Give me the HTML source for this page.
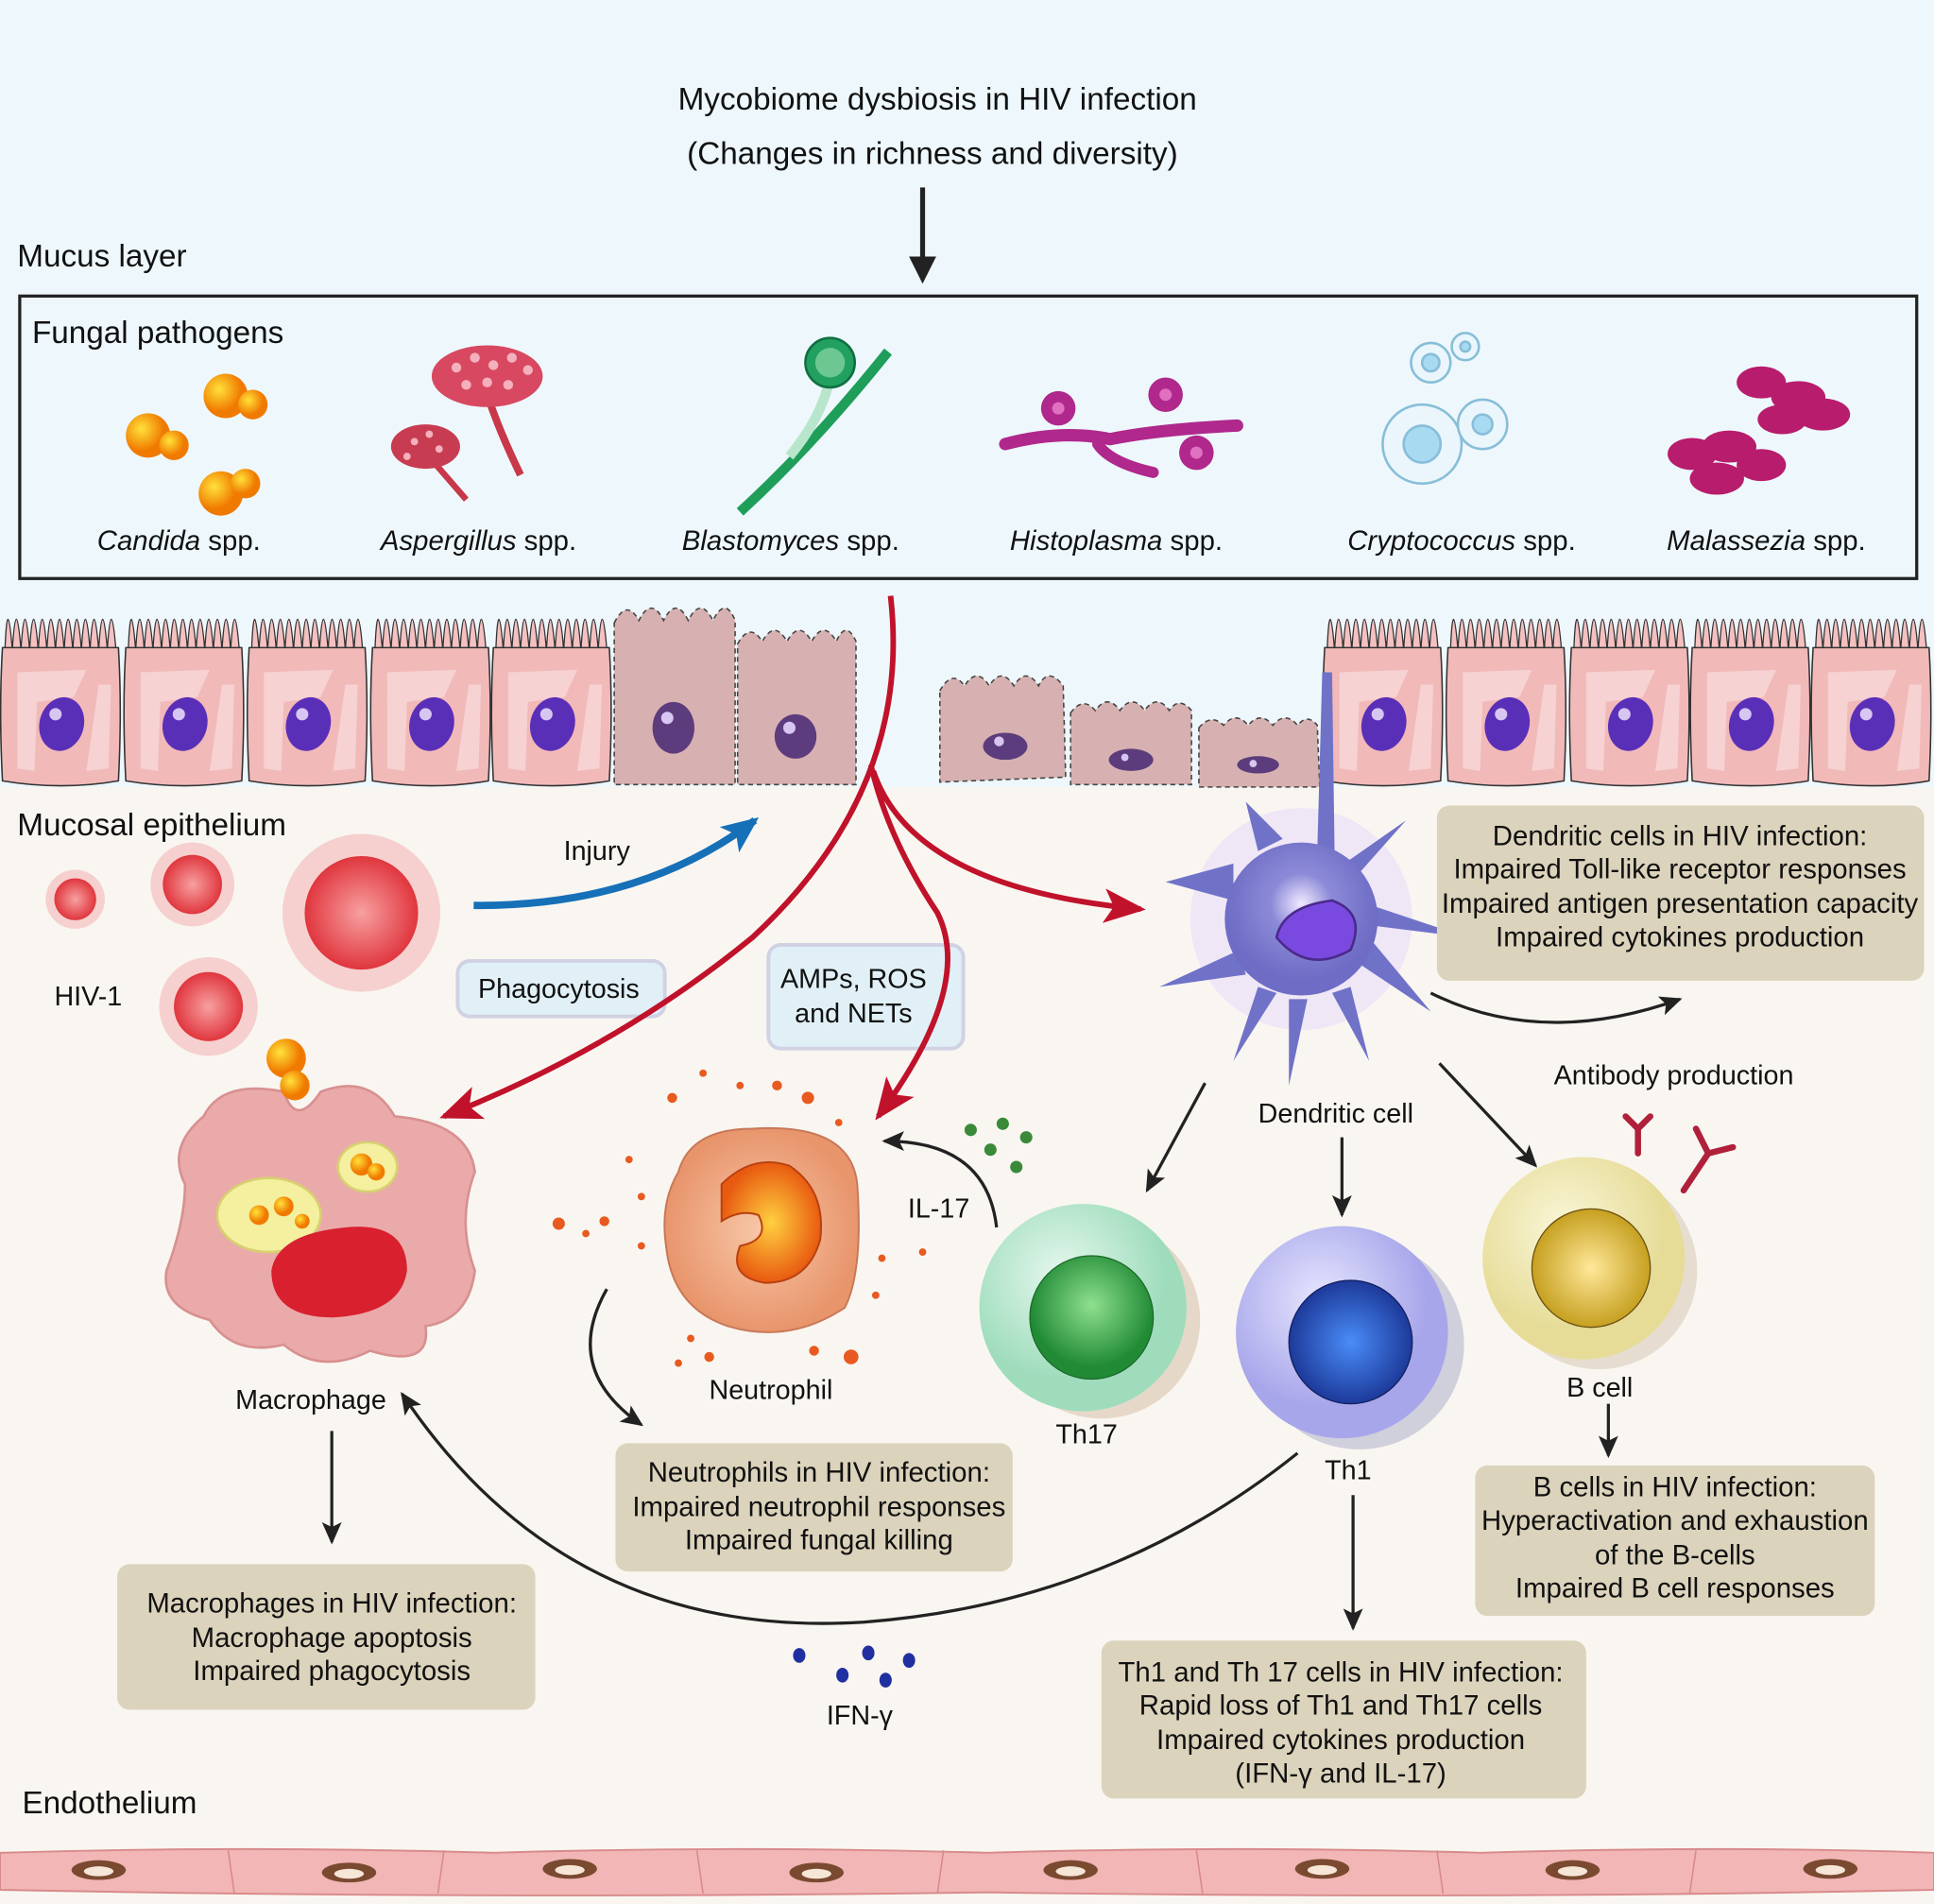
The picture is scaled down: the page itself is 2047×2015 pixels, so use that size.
<!DOCTYPE html>
<html><head><meta charset="utf-8"><style>
html,body{margin:0;padding:0;background:#fff}
svg{display:block}
text{font-family:"Liberation Sans",Arial,sans-serif;fill:#111}
</style></head><body>
<svg width="2047" height="2015" viewBox="0 0 1568 1543.5" xmlns="http://www.w3.org/2000/svg">
<defs>
<marker id="ar" markerWidth="34" markerHeight="28" refX="30" refY="14" orient="auto" markerUnits="userSpaceOnUse"><path d="M0,0 L34,14 L0,28 L8,14 z" fill="#c0122a"/></marker>
<marker id="abl" markerWidth="30" markerHeight="26" refX="26" refY="13" orient="auto" markerUnits="userSpaceOnUse"><path d="M0,0 L30,13 L0,26 L7,13 z" fill="#1670b8"/></marker>
<marker id="ak" markerWidth="18" markerHeight="16" refX="16" refY="8" orient="auto" markerUnits="userSpaceOnUse"><path d="M0,0 L18,8 L0,16 L4,8 z" fill="#222"/></marker>
<radialGradient id="org" cx="35%" cy="35%"><stop offset="0" stop-color="#ffe23a"/><stop offset="1" stop-color="#f07a00"/></radialGradient>
<radialGradient id="vir" cx="50%" cy="50%"><stop offset="0" stop-color="#f7a0a0"/><stop offset="1" stop-color="#e0363e"/></radialGradient>
<radialGradient id="dc" cx="50%" cy="40%"><stop offset="0" stop-color="#f0eaff"/><stop offset="0.4" stop-color="#8c8ad8"/><stop offset="1" stop-color="#6e6cc4"/></radialGradient>
<radialGradient id="g1" cx="40%" cy="35%"><stop offset="0" stop-color="#e6f8ee"/><stop offset="1" stop-color="#9edcbc"/></radialGradient>
<radialGradient id="g2" cx="50%" cy="40%"><stop offset="0" stop-color="#8ee08e"/><stop offset="1" stop-color="#218a35"/></radialGradient>
<radialGradient id="p1" cx="40%" cy="35%"><stop offset="0" stop-color="#e6e6ff"/><stop offset="1" stop-color="#a8a6ea"/></radialGradient>
<radialGradient id="p2" cx="50%" cy="50%"><stop offset="0" stop-color="#4a8cf8"/><stop offset="1" stop-color="#1d3a9a"/></radialGradient>
<radialGradient id="y1" cx="40%" cy="35%"><stop offset="0" stop-color="#faf6d8"/><stop offset="1" stop-color="#e6dc98"/></radialGradient>
<radialGradient id="y2" cx="50%" cy="50%"><stop offset="0" stop-color="#ffe89a"/><stop offset="1" stop-color="#c6a020"/></radialGradient>
<radialGradient id="neu" cx="50%" cy="50%"><stop offset="0" stop-color="#f8c8a8"/><stop offset="1" stop-color="#e8956c"/></radialGradient>
<radialGradient id="neun" cx="50%" cy="50%"><stop offset="0" stop-color="#ffd040"/><stop offset="1" stop-color="#e85a10"/></radialGradient>
<g id="hc">
<path d="M4,32 q2,-50 6,0 q3,-50 7,0 q3,-50 7,0 q3,-50 7,0 q3,-50 7,0 q3,-50 7,0 q3,-50 7,0 q3,-50 7,0 q3,-50 7,0 q3,-50 7,0 q3,-50 7,0 q3,-50 7,0 q3,-50 7,0 L94,32" fill="#f5c0c0" stroke="#333" stroke-width="1"/>
<path d="M2,30 L96,30 Q99,80 96,138 Q50,146 2,138 Q-1,80 2,30z" fill="#f2b9b9" stroke="#333" stroke-width="1.2"/>
<path d="M14,50 L70,48 L60,70 L30,74 L28,130 L14,128z" fill="#f6d2d2"/>
<path d="M80,60 L90,60 L88,128 L70,130z" fill="#f6d2d2"/>
<ellipse cx="50" cy="92" rx="18" ry="22" transform="rotate(15 50 92)" fill="#5a2fb8"/>
<circle cx="45" cy="84" r="5" fill="#d8c6f2"/>
</g>
</defs>

<rect x="0" y="0" width="1568" height="640" fill="#eef8fc"/>
<rect x="0" y="638" width="1568" height="906" fill="#f9f6f1"/>

<text x="760" y="89" font-size="25.5" text-anchor="middle">Mycobiome dysbiosis in HIV infection</text>
<text x="756" y="133" font-size="25.5" text-anchor="middle">(Changes in richness and diversity)</text>
<line x1="748" y1="152" x2="748" y2="216" stroke="#222" stroke-width="4"/>
<path d="M737,208 L748,230 L759,208z" fill="#222"/>
<text x="14" y="216" font-size="25.5">Mucus layer</text>
<rect x="16" y="240" width="1538" height="229" fill="none" stroke="#222" stroke-width="2.5"/>
<text x="26" y="278" font-size="25.5">Fungal pathogens</text>

<g font-size="22.5" text-anchor="middle">
<text x="145" y="446"><tspan font-style="italic">Candida</tspan> spp.</text>
<text x="388" y="446"><tspan font-style="italic">Aspergillus</tspan> spp.</text>
<text x="641" y="446"><tspan font-style="italic">Blastomyces</tspan> spp.</text>
<text x="905" y="446"><tspan font-style="italic">Histoplasma</tspan> spp.</text>
<text x="1185" y="446"><tspan font-style="italic">Cryptococcus</tspan> spp.</text>
<text x="1432" y="446"><tspan font-style="italic">Malassezia</tspan> spp.</text>
</g>

<g fill="url(#org)">
<circle cx="120" cy="353" r="18"/><circle cx="141" cy="361" r="12"/>
<circle cx="183" cy="321" r="18"/><circle cx="205" cy="328" r="12"/>
<circle cx="179" cy="400" r="18"/><circle cx="199" cy="392" r="12"/>
</g>
<g>
<path d="M395,320 Q405,350 422,385" stroke="#c8384a" stroke-width="6" fill="none"/>
<path d="M352,375 Q365,390 378,405" stroke="#c8384a" stroke-width="5" fill="none"/>
<ellipse cx="395" cy="305" rx="45" ry="25" fill="#d84860"/>
<ellipse cx="345" cy="362" rx="28" ry="18" fill="#c83c52"/>
<g fill="#f4b0bc"><circle cx="370" cy="298" r="4"/><circle cx="385" cy="290" r="4"/><circle cx="400" cy="296" r="4"/><circle cx="415" cy="290" r="4"/><circle cx="428" cy="300" r="4"/><circle cx="378" cy="312" r="4"/><circle cx="395" cy="310" r="4"/><circle cx="412" cy="312" r="4"/><circle cx="336" cy="358" r="3"/><circle cx="348" cy="352" r="3"/><circle cx="356" cy="364" r="3"/><circle cx="330" cy="370" r="3"/></g>
</g>
<path d="M600,415 Q660,360 720,285" stroke="#1f9e5a" stroke-width="8" fill="none"/>
<path d="M672,310 Q665,340 640,370" stroke="#b8e6cc" stroke-width="8" fill="none"/>
<circle cx="673" cy="294" r="20" fill="#22a060" stroke="#0e7040" stroke-width="2"/>
<circle cx="673" cy="294" r="12" fill="#6cc890"/>
<g fill="#b0288c">
<path d="M815,360 Q860,348 900,356 Q940,348 1003,345" stroke="#b0288c" stroke-width="10" fill="none" stroke-linecap="round"/>
<path d="M890,360 Q900,375 935,383" stroke="#b0288c" stroke-width="9" fill="none" stroke-linecap="round"/>
<circle cx="858" cy="331" r="14"/><circle cx="945" cy="320" r="14"/><circle cx="970" cy="367" r="14"/>
<g fill="#e070c0"><circle cx="858" cy="331" r="5"/><circle cx="945" cy="320" r="5"/><circle cx="970" cy="367" r="5"/></g>
</g>
<g fill="none" stroke="#88bed8" stroke-width="2">
<circle cx="1153" cy="360" r="32" fill="#eaf6fc"/><circle cx="1153" cy="360" r="15" fill="#a8daf2"/>
<circle cx="1202" cy="344" r="20" fill="#eaf6fc"/><circle cx="1202" cy="344" r="8" fill="#a8daf2"/>
<circle cx="1160" cy="294" r="16" fill="#eaf6fc"/><circle cx="1160" cy="294" r="7" fill="#a8daf2"/>
<circle cx="1188" cy="281" r="11" fill="#eaf6fc"/><circle cx="1188" cy="281" r="4" fill="#a8daf2"/>
</g>
<g fill="#b81c6c">
<ellipse cx="1428" cy="310" rx="20" ry="13"/><ellipse cx="1458" cy="322" rx="22" ry="13"/><ellipse cx="1478" cy="336" rx="22" ry="13"/><ellipse cx="1445" cy="340" rx="20" ry="12"/>
<ellipse cx="1372" cy="368" rx="20" ry="13"/><ellipse cx="1402" cy="362" rx="22" ry="13"/><ellipse cx="1428" cy="377" rx="20" ry="13"/><ellipse cx="1392" cy="388" rx="22" ry="13"/>
</g>

<use href="#hc" x="0" y="495"/><use href="#hc" x="100" y="495"/><use href="#hc" x="200" y="495"/><use href="#hc" x="300" y="495"/><use href="#hc" x="398" y="495"/>
<use href="#hc" x="1072" y="495"/><use href="#hc" x="1172" y="495"/><use href="#hc" x="1272" y="495"/><use href="#hc" x="1370" y="495"/><use href="#hc" x="1468" y="495"/>
<g fill="#d7b1b1" stroke="#444" stroke-width="1.2" stroke-dasharray="4,3">
<path d="M498,505 q10,-20 20,-2 q10,-20 20,0 q10,-20 20,0 q10,-20 20,0 q10,-20 18,0 L596,636 L498,636z"/>
<path d="M598,522 q10,-18 20,-2 q10,-18 20,0 q10,-18 20,0 q10,-18 20,0 q8,-18 16,0 L694,636 L598,636z"/>
<path d="M762,560 q10,-18 20,-4 q10,-16 20,0 q10,-16 20,0 q10,-16 20,0 q8,-16 20,0 L864,630 L762,634z"/>
<path d="M868,578 q10,-14 20,-2 q10,-14 20,0 q10,-14 20,0 q10,-14 20,0 q8,-12 18,0 L966,636 L868,636z"/>
<path d="M972,590 q10,-12 20,-2 q10,-12 20,0 q10,-12 20,0 q10,-12 20,0 q8,-10 16,0 L1070,638 L972,638z"/>
</g>
<g fill="#5c3c7c"><ellipse cx="546" cy="590" rx="17" ry="21"/><ellipse cx="645" cy="597" rx="17" ry="18"/><ellipse cx="815" cy="605" rx="18" ry="11"/><ellipse cx="917" cy="616" rx="18" ry="9"/><ellipse cx="1020" cy="620" rx="17" ry="7"/></g>
<g fill="#d8c6f2"><circle cx="541" cy="582" r="5"/><circle cx="640" cy="590" r="5"/><circle cx="810" cy="601" r="4"/><circle cx="912" cy="614" r="3"/><circle cx="1016" cy="619" r="3"/></g>

<text x="14" y="677" font-size="25.5">Mucosal epithelium</text>

<g>
<circle cx="61" cy="729" r="24" fill="#f3b8b8" opacity=".6"/><circle cx="61" cy="729" r="17" fill="url(#vir)"/>
<circle cx="156" cy="717" r="34" fill="#f3b8b8" opacity=".6"/><circle cx="156" cy="717" r="24" fill="url(#vir)"/>
<circle cx="293" cy="740" r="64" fill="#f3b8b8" opacity=".6"/><circle cx="293" cy="740" r="46" fill="url(#vir)"/>
<circle cx="169" cy="816" r="40" fill="#f3b8b8" opacity=".6"/><circle cx="169" cy="816" r="28" fill="url(#vir)"/>
</g>
<text x="44" y="815" font-size="22">HIV-1</text>

<path d="M384,734 Q520,735 612,665" stroke="#1670b8" stroke-width="6" fill="none" marker-end="url(#abl)"/>
<text x="457" y="697" font-size="22">Injury</text>

<rect x="371" y="779" width="168" height="45" rx="10" fill="#e0f0f6" stroke="#d0d2e4" stroke-width="3"/>
<text x="453" y="809" font-size="22" text-anchor="middle">Phagocytosis</text>
<rect x="623" y="766" width="158" height="84" rx="10" fill="#e0f0f6" stroke="#d0d2e4" stroke-width="3"/>
<text x="692" y="801" font-size="22" text-anchor="middle">AMPs, ROS</text>
<text x="692" y="829" font-size="22" text-anchor="middle">and NETs</text>

<g stroke="#c0122a" stroke-width="4.5" fill="none">
<path d="M722,483 Q740,640 610,760 Q500,850 360,905" marker-end="url(#ar)"/>
<path d="M706,620 Q720,680 760,740 Q790,800 712,905" marker-end="url(#ar)"/>
<path d="M708,625 Q740,720 925,737" marker-end="url(#ar)"/>
</g>

<circle cx="1055" cy="745" r="90" fill="#e8defa" opacity=".6"/>
<g fill="#7072c8">
<path d="M1072,545 L1080,545 L1082,690 L1068,690z"/>
<path d="M1000,700 L945,715 L1000,730z M1005,770 L940,800 L1010,790z M1020,800 L1000,860 L1035,805z M1045,810 L1045,880 L1060,810z M1080,805 L1110,860 L1095,800z M1100,780 L1160,820 L1110,760z M1110,750 L1190,760 L1115,735z M1100,710 L1140,665 L1090,700z M1020,690 L1010,650 L1040,680z"/>
</g>
<circle cx="1055" cy="745" r="62" fill="url(#dc)"/>
<path d="M1035,760 Q1040,735 1080,730 Q1108,740 1095,770 Q1060,790 1035,760z" fill="#7a4ae0" stroke="#4a2a8a" stroke-width="2"/>
<text x="1083" y="910" font-size="22" text-anchor="middle">Dendritic cell</text>

<rect x="1165" y="653" width="395" height="142" rx="10" fill="#dcd3bc"/>
<g font-size="22.5" text-anchor="middle">
<text x="1362" y="685">Dendritic cells in HIV infection:</text>
<text x="1362" y="712">Impaired Toll-like receptor responses</text>
<text x="1362" y="740">Impaired antigen presentation capacity</text>
<text x="1362" y="767">Impaired cytokines production</text>
</g>
<path d="M1160,805 Q1250,850 1362,810" stroke="#222" stroke-width="2.5" fill="none" marker-end="url(#ak)"/>
<text x="1357" y="879" font-size="22" text-anchor="middle">Antibody production</text>

<g stroke="#b0203a" stroke-width="5" fill="none" stroke-linecap="round">
<path d="M1328,935 L1328,915 L1318,905 M1328,915 L1338,905"/>
<path d="M1365,965 L1385,935 L1375,915 M1385,935 L1405,930"/>
</g>

<g stroke="#222" stroke-width="2.5" fill="none">
<line x1="977" y1="878" x2="930" y2="965" marker-end="url(#ak)"/>
<line x1="1088" y1="922" x2="1088" y2="985" marker-end="url(#ak)"/>
<line x1="1167" y1="862" x2="1245" y2="945" marker-end="url(#ak)"/>
<line x1="1304" y1="1138" x2="1304" y2="1180" marker-end="url(#ak)"/>
<line x1="269" y1="1160" x2="269" y2="1250" marker-end="url(#ak)"/>
<line x1="1097" y1="1212" x2="1097" y2="1320" marker-end="url(#ak)"/>
<path d="M1052,1178 Q900,1300 700,1315 Q460,1330 326,1130" marker-end="url(#ak)"/>
<path d="M808,995 Q800,925 717,925" marker-end="url(#ak)"/>
<path d="M492,1045 Q455,1110 520,1155" marker-end="url(#ak)"/>
</g>

<circle cx="893" cy="1070" r="80" fill="#e6d8c8"/>
<circle cx="878" cy="1060" r="84" fill="url(#g1)"/>
<circle cx="885" cy="1068" r="50" fill="url(#g2)" stroke="#1a6a28" stroke-width="1"/>
<text x="881" y="1170" font-size="22" text-anchor="middle">Th17</text>
<circle cx="1102" cy="1090" r="85" fill="#d0cfdc"/>
<circle cx="1088" cy="1080" r="86" fill="url(#p1)"/>
<circle cx="1095" cy="1088" r="50" fill="url(#p2)" stroke="#122060" stroke-width="1"/>
<text x="1093" y="1199" font-size="22" text-anchor="middle">Th1</text>
<circle cx="1296" cy="1030" r="80" fill="#e6ddd0"/>
<circle cx="1284" cy="1020" r="82" fill="url(#y1)"/>
<circle cx="1290" cy="1028" r="48" fill="url(#y2)" stroke="#6a5010" stroke-width="1"/>
<text x="1297" y="1132" font-size="22" text-anchor="middle">B cell</text>

<g fill="#3a8a3a"><circle cx="787" cy="916" r="5"/><circle cx="813" cy="911" r="5"/><circle cx="803" cy="932" r="5"/><circle cx="832" cy="922" r="5"/><circle cx="824" cy="946" r="5"/></g>
<text x="736" y="987" font-size="22">IL-17</text>

<g fill="#e85a20">
<circle cx="570" cy="870" r="3"/><circle cx="630" cy="880" r="4"/><circle cx="655" cy="890" r="5"/><circle cx="545" cy="890" r="4"/><circle cx="510" cy="940" r="3"/><circle cx="490" cy="990" r="4"/><circle cx="453" cy="992" r="5"/><circle cx="475" cy="1000" r="3"/><circle cx="520" cy="970" r="3"/><circle cx="715" cy="1020" r="3"/><circle cx="748" cy="1015" r="3"/><circle cx="690" cy="1100" r="6"/><circle cx="575" cy="1100" r="4"/><circle cx="560" cy="1085" r="3"/><circle cx="660" cy="1095" r="4"/><circle cx="600" cy="880" r="3"/><circle cx="520" cy="1010" r="3"/><circle cx="710" cy="1050" r="3"/><circle cx="550" cy="1105" r="3"/><circle cx="680" cy="910" r="3"/>
</g>
<path d="M550,950 Q560,915 610,915 Q690,910 695,960 Q700,1030 685,1060 Q640,1090 590,1075 Q545,1060 540,1010 Q535,975 550,950z" fill="url(#neu)" stroke="#c87858" stroke-width="1.5"/>
<path d="M585,960 Q610,935 640,945 Q670,965 665,1005 Q655,1040 620,1040 Q590,1035 600,1010 Q625,1005 615,985 Q600,980 585,990z" fill="url(#neun)" stroke="#b84010" stroke-width="1.5"/>
<text x="625" y="1134" font-size="22" text-anchor="middle">Neutrophil</text>

<path d="M165,905 Q180,875 230,885 Q240,915 260,885 Q300,870 320,905 Q380,910 385,950 Q370,990 385,1030 Q380,1070 345,1075 Q350,1110 300,1095 Q260,1115 230,1090 Q190,1100 170,1070 Q130,1060 135,1030 Q150,990 150,960 Q135,930 165,905z" fill="#eaaaaa" stroke="#d89090" stroke-width="2"/>
<circle cx="232" cy="858" r="16" fill="url(#org)"/><circle cx="239" cy="880" r="12" fill="url(#org)"/>
<ellipse cx="218" cy="985" rx="42" ry="30" fill="#f4f0a0" stroke="#d8d070" stroke-width="2"/>
<ellipse cx="298" cy="946" rx="24" ry="20" fill="#f4f0a0" stroke="#d8d070" stroke-width="2"/>
<g fill="url(#org)"><circle cx="210" cy="985" r="8"/><circle cx="230" cy="978" r="8"/><circle cx="245" cy="990" r="6"/><circle cx="293" cy="944" r="9"/><circle cx="305" cy="950" r="7"/></g>
<path d="M220,1030 Q225,1000 280,995 Q330,990 330,1030 Q325,1065 270,1068 Q220,1068 220,1030z" fill="#d8202e"/>
<text x="252" y="1142" font-size="22" text-anchor="middle">Macrophage</text>

<rect x="499" y="1170" width="322" height="104" rx="10" fill="#dcd3bc"/>
<g font-size="22.5" text-anchor="middle">
<text x="664" y="1201">Neutrophils in HIV infection:</text>
<text x="664" y="1229">Impaired neutrophil responses</text>
<text x="664" y="1256">Impaired fungal killing</text>
</g>
<rect x="95" y="1268" width="339" height="118" rx="10" fill="#dcd3bc"/>
<g font-size="22.5" text-anchor="middle">
<text x="269" y="1307">Macrophages in HIV infection:</text>
<text x="269" y="1335">Macrophage apoptosis</text>
<text x="269" y="1362">Impaired phagocytosis</text>
</g>
<rect x="893" y="1330" width="393" height="128" rx="10" fill="#dcd3bc"/>
<g font-size="22.5" text-anchor="middle">
<text x="1087" y="1363">Th1 and Th 17 cells in HIV infection:</text>
<text x="1087" y="1390">Rapid loss of Th1 and Th17 cells</text>
<text x="1087" y="1418">Impaired cytokines production</text>
<text x="1087" y="1445">(IFN-γ and IL-17)</text>
</g>
<rect x="1196" y="1188" width="324" height="122" rx="10" fill="#dcd3bc"/>
<g font-size="22.5" text-anchor="middle">
<text x="1358" y="1213">B cells in HIV infection:</text>
<text x="1358" y="1240">Hyperactivation and exhaustion</text>
<text x="1358" y="1268">of the B-cells</text>
<text x="1358" y="1295">Impaired B cell responses</text>
</g>

<g fill="#2030a0"><ellipse cx="648" cy="1342" rx="5" ry="6"/><ellipse cx="683" cy="1358" rx="5" ry="6"/><ellipse cx="704" cy="1340" rx="5" ry="6"/><ellipse cx="718" cy="1362" rx="5" ry="6"/><ellipse cx="737" cy="1346" rx="5" ry="6"/></g>
<text x="697" y="1398" font-size="22" text-anchor="middle">IFN-γ</text>

<text x="18" y="1470" font-size="25.5">Endothelium</text>
<path d="M0,1502 Q200,1496 400,1502 Q600,1496 800,1502 Q1000,1496 1200,1502 Q1400,1496 1568,1502 L1568,1532 Q1200,1540 800,1534 Q400,1540 0,1532z" fill="#f2b6b6" stroke="#d88a8a" stroke-width="1.5"/>
<g stroke="#d88a8a" stroke-width="1.2"><line x1="185" y1="1500" x2="190" y2="1535"/><line x1="360" y1="1500" x2="355" y2="1535"/><line x1="565" y1="1500" x2="570" y2="1535"/><line x1="765" y1="1500" x2="760" y2="1535"/><line x1="970" y1="1500" x2="975" y2="1535"/><line x1="1165" y1="1500" x2="1170" y2="1535"/><line x1="1375" y1="1500" x2="1370" y2="1535"/></g>
<g fill="#7a4a30"><ellipse cx="80" cy="1516" rx="22" ry="8"/><ellipse cx="283" cy="1518" rx="22" ry="8"/><ellipse cx="462" cy="1515" rx="22" ry="8"/><ellipse cx="662" cy="1518" rx="22" ry="8"/><ellipse cx="868" cy="1516" rx="22" ry="8"/><ellipse cx="1072" cy="1515" rx="22" ry="8"/><ellipse cx="1275" cy="1516" rx="22" ry="8"/><ellipse cx="1484" cy="1515" rx="22" ry="8"/></g>
<g fill="#f6e6d8"><ellipse cx="80" cy="1517" rx="12" ry="4"/><ellipse cx="283" cy="1519" rx="12" ry="4"/><ellipse cx="462" cy="1516" rx="12" ry="4"/><ellipse cx="662" cy="1519" rx="12" ry="4"/><ellipse cx="868" cy="1517" rx="12" ry="4"/><ellipse cx="1072" cy="1516" rx="12" ry="4"/><ellipse cx="1275" cy="1517" rx="12" ry="4"/><ellipse cx="1484" cy="1516" rx="12" ry="4"/></g>
</svg>
</body></html>
